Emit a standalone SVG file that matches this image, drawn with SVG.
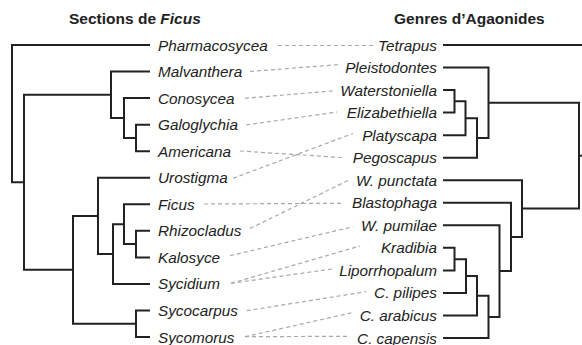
<svg xmlns="http://www.w3.org/2000/svg" width="582" height="345" viewBox="0 0 582 345">
<style>
.t{font-family:"Liberation Sans",Arial,sans-serif;font-size:15.5px;font-weight:bold;fill:#222}
.l{font-family:"Liberation Sans",Arial,sans-serif;font-size:15.3px;font-style:italic;fill:#222}
.r{font-family:"Liberation Sans",Arial,sans-serif;font-size:15.3px;font-style:italic;fill:#222;text-anchor:end}
.tree{fill:none;stroke:#222;stroke-width:2}
.c{stroke:#a8a8a8;stroke-width:1.2;stroke-dasharray:4 3;fill:none}
</style>
<rect width="582" height="345" fill="#fff"/>
<g id="titles">
<text class="t" x="69" y="23.5">Sections de <tspan font-style="italic">Ficus</tspan></text>
<text class="t" x="394" y="23.5">Genres d’Agaonides</text>
</g>
<g id="left-tree" class="tree">
<path d="M150 124.65H136V151.2H150"/>
<path d="M150 98.1H124V137.9H136"/>
<path d="M150 71.55H111V118H124"/>
<path d="M150 230.85H136V257.4H150"/>
<path d="M150 204.3H124V244.1H136"/>
<path d="M124 224.2H113V283.95H150"/>
<path d="M150 177.75H98V254.1H113"/>
<path d="M150 310.5H136V337.05H150"/>
<path d="M98 215.9H73V323.8H136"/>
<path d="M111 94.8H24V269.8H73"/>
<path d="M150 45H12V182.3H24"/>
</g>
<g id="right-tree" class="tree">
<path d="M443 45H584"/>
<path d="M443 90.08H454.5V112.62H443"/>
<path d="M454.5 101.35H465.5V135.16H443"/>
<path d="M465.5 118.26H477V157.7H443"/>
<path d="M443 67.54H488.5V137.98H477"/>
<path d="M443 247.86H454.5V270.4H443"/>
<path d="M454.5 259.13H466V292.94H443"/>
<path d="M466 276.04H477V315.48H443"/>
<path d="M477 295.76H488.5V338.02H443"/>
<path d="M443 225.32H499.5V316.89H488.5"/>
<path d="M443 202.78H511V271.1H499.5"/>
<path d="M443 180.24H522V236.9H511"/>
<path d="M488.5 102.76H579V208.6H522"/>
<path d="M579 155.7H584"/>
</g>
<g id="connectors">
<line class="c" x1="278" y1="45.5" x2="373" y2="45.5"/>
<line class="c" x1="250" y1="71.5" x2="340" y2="64.5"/>
<line class="c" x1="245" y1="98.3" x2="335" y2="90.7"/>
<line class="c" x1="246" y1="125" x2="337" y2="112"/>
<line class="c" x1="240" y1="151" x2="345" y2="157.7"/>
<line class="c" x1="233" y1="178.3" x2="353" y2="133.5"/>
<line class="c" x1="204" y1="204" x2="342" y2="203.3"/>
<line class="c" x1="250" y1="228.5" x2="348" y2="180.5"/>
<line class="c" x1="230" y1="255.7" x2="353" y2="226.7"/>
<line class="c" x1="231" y1="283.3" x2="360" y2="246"/>
<line class="c" x1="231" y1="283.3" x2="332" y2="269"/>
<line class="c" x1="246.7" y1="310.7" x2="366" y2="291.7"/>
<line class="c" x1="245" y1="336.7" x2="352" y2="312.7"/>
<line class="c" x1="245" y1="336.7" x2="348" y2="336.3"/>
</g>
<g id="Pharmacosycea"><text class="l" x="158" y="50.5">Pharmacosycea</text></g>
<g id="Malvanthera"><text class="l" x="158" y="77">Malvanthera</text></g>
<g id="Conosycea"><text class="l" x="158" y="103.6">Conosycea</text></g>
<g id="Galoglychia"><text class="l" x="158" y="130.1">Galoglychia</text></g>
<g id="Americana"><text class="l" x="158" y="156.7">Americana</text></g>
<g id="Urostigma"><text class="l" x="158" y="183.2">Urostigma</text></g>
<g id="Ficus"><text class="l" x="158" y="209.8">Ficus</text></g>
<g id="Rhizocladus"><text class="l" x="158" y="236.3">Rhizocladus</text></g>
<g id="Kalosyce"><text class="l" x="158" y="262.9">Kalosyce</text></g>
<g id="Sycidium"><text class="l" x="158" y="289.4">Sycidium</text></g>
<g id="Sycocarpus"><text class="l" x="158" y="316">Sycocarpus</text></g>
<g id="Sycomorus"><text class="l" x="158" y="342.5">Sycomorus</text></g>
<g id="Tetrapus"><text class="r" x="437" y="50.5">Tetrapus</text></g>
<g id="Pleistodontes"><text class="r" x="437" y="73">Pleistodontes</text></g>
<g id="Waterstoniella"><text class="r" x="437" y="95.6">Waterstoniella</text></g>
<g id="Elizabethiella"><text class="r" x="437" y="118.1">Elizabethiella</text></g>
<g id="Platyscapa"><text class="r" x="437" y="140.7">Platyscapa</text></g>
<g id="Pegoscapus"><text class="r" x="437" y="163.2">Pegoscapus</text></g>
<g id="W-punctata"><text class="r" x="437" y="185.7">W. punctata</text></g>
<g id="Blastophaga"><text class="r" x="437" y="208.3">Blastophaga</text></g>
<g id="W-pumilae"><text class="r" x="437" y="230.8">W. pumilae</text></g>
<g id="Kradibia"><text class="r" x="437" y="253.4">Kradibia</text></g>
<g id="Liporrhopalum"><text class="r" x="437" y="275.9">Liporrhopalum</text></g>
<g id="C-pilipes"><text class="r" x="437" y="298.4">C. pilipes</text></g>
<g id="C-arabicus"><text class="r" x="437" y="321">C. arabicus</text></g>
<g id="C-capensis"><text class="r" x="437" y="343.5">C. capensis</text></g>
</svg>
